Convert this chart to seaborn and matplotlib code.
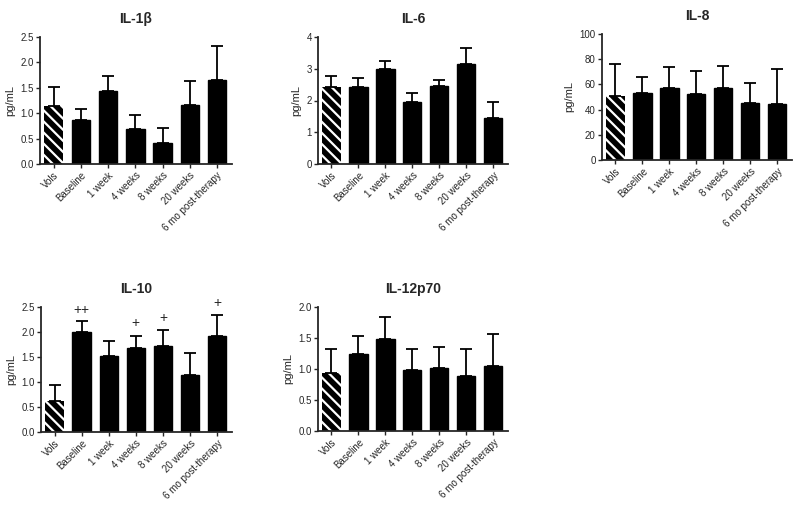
import matplotlib
matplotlib.use('Agg')
import matplotlib.pyplot as plt
import seaborn as sns
import numpy as np

sns.set_style('ticks')
plt.rcParams['font.family'] = ['Liberation Sans', 'DejaVu Sans']
plt.rcParams['hatch.linewidth'] = 1.6

grupos = ['Vols', 'Baseline', '1 week', '4 weeks', '8 weeks', '20 weeks', '6 mo post-therapy']

# medias y limite superior del error (pg/mL)
il1b = [1.15, 0.87, 1.44, 0.69, 0.42, 1.17, 1.65]
il1b_top = [1.51, 1.08, 1.74, 0.96, 0.70, 1.64, 2.33]

il6 = [2.43, 2.43, 3.00, 1.94, 2.45, 3.15, 1.44]
il6_top = [2.77, 2.70, 3.23, 2.25, 2.65, 3.66, 1.96]

il8 = [51, 53.5, 57.5, 52.5, 57, 45.5, 44.5]
il8_top = [76, 66, 74, 71, 74.5, 61, 72]

il10 = [0.62, 2.0, 1.52, 1.69, 1.72, 1.14, 1.92]
il10_top = [0.94, 2.23, 1.82, 1.93, 2.04, 1.58, 2.35]
il10_marcas = ['', '++', '', '+', '+', '', '+']
il10_marcas_y = [0, 2.44, 0, 2.17, 2.28, 0, 2.59]

il12 = [0.93, 1.24, 1.49, 0.99, 1.01, 0.89, 1.05]
il12_top = [1.32, 1.53, 1.84, 1.33, 1.35, 1.33, 1.56]

fig = plt.figure(figsize=(8, 5.08), dpi=100)
W, H = 800, 508


def panel(px_left, px_right, px_top, px_bottom):
    return fig.add_axes([px_left / W, 1 - px_bottom / H,
                         (px_right - px_left) / W, (px_bottom - px_top) / H])


def dibujar(ax, titulo, medias, tops, yticks, fmt):
    sns.barplot(x=grupos, y=medias, color='black', width=0.68, ax=ax,
                saturation=1, edgecolor='black', linewidth=1)
    # barra de voluntarios: negra con rayas blancas
    vols = ax.patches[0]
    vols.set_facecolor('black')
    vols.set_edgecolor('white')
    vols.set_linewidth(0)
    vols.set_hatch('\\\\\\')
    err = np.array(tops) - np.array(medias)
    ax.errorbar(range(len(grupos)), medias,
                yerr=[np.zeros(len(grupos)), err],
                fmt='none', ecolor='black', elinewidth=1.3,
                capsize=4, capthick=1.3)
    ax.set_xlim(-0.5, 6.55)
    ax.set_ylim(0, yticks[-1])
    ax.set_yticks(yticks)
    ax.set_yticklabels([fmt.format(t) for t in yticks], fontsize=7)
    ax.set_xticks(range(len(grupos)))
    ax.set_xticklabels(grupos, rotation=45, ha='right', rotation_mode='anchor',
                       fontsize=7)
    ax.set_ylabel('pg/mL', fontsize=8)
    ax.set_title(titulo, fontsize=10, fontweight='bold', pad=10)
    sns.despine(ax=ax)
    for s in ['left', 'bottom']:
        ax.spines[s].set_linewidth(1.3)
    ax.tick_params(length=3, width=1, pad=1.5)


ax1 = panel(40, 232, 37, 164)
dibujar(ax1, 'IL-1β', il1b, il1b_top, [0, 0.5, 1.0, 1.5, 2.0, 2.5], '{:.1f}')

ax2 = panel(318, 508, 37, 164)
dibujar(ax2, 'IL-6', il6, il6_top, [0, 1, 2, 3, 4], '{:d}')

ax3 = panel(602, 792, 34, 160)
dibujar(ax3, 'IL-8', il8, il8_top, [0, 20, 40, 60, 80, 100], '{:d}')

ax4 = panel(41, 232, 307, 432)
dibujar(ax4, 'IL-10', il10, il10_top, [0, 0.5, 1.0, 1.5, 2.0, 2.5], '{:.1f}')
for i, (m, y) in enumerate(zip(il10_marcas, il10_marcas_y)):
    if m:
        ax4.text(i, y, m, ha='center', va='center', fontsize=10, clip_on=False)

ax5 = panel(318, 508, 307, 431)
dibujar(ax5, 'IL-12p70', il12, il12_top, [0, 0.5, 1.0, 1.5, 2.0], '{:.1f}')

fig.savefig('out.png', dpi=100)
